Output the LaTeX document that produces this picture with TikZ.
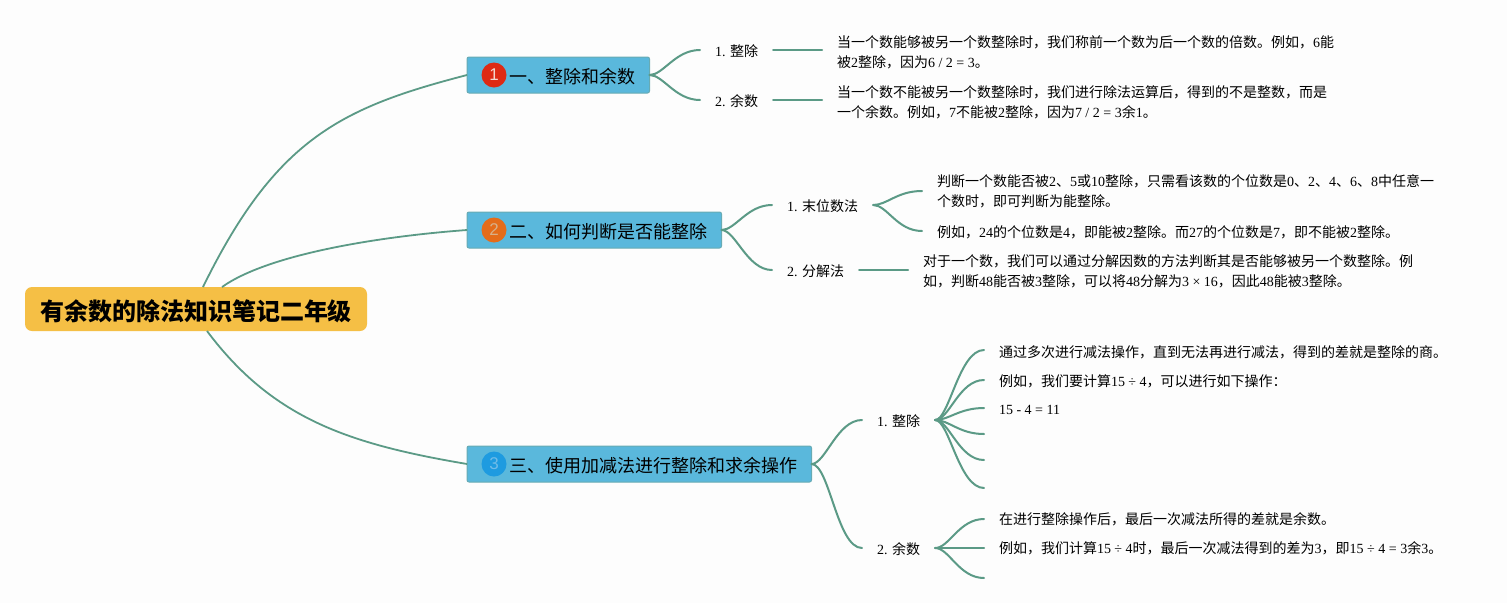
\documentclass[tikz,border=0pt]{standalone}
\usepackage{fontspec}
\setmainfont{Liberation Serif}
\newfontfamily\cjk{Noto Sans CJK SC}
\newfontfamily\badgefont{Liberation Sans}
\newcommand\la[1]{{\rmfamily #1}}
\definecolor{linkc}{HTML}{5B9A86}
\definecolor{topicc}{HTML}{5AB8DC}
\definecolor{topicb}{HTML}{67ABB4}
\definecolor{rootc}{HTML}{F5BF45}
\definecolor{bgc}{HTML}{FDFDFD}
\definecolor{bred}{HTML}{DE2A14}
\definecolor{bora}{HTML}{E46C1A}
\definecolor{bblu}{HTML}{1E9BE0}
\definecolor{dred}{HTML}{F3D6CE}
\definecolor{dora}{HTML}{D8B088}
\definecolor{dblu}{HTML}{70BCE8}
\tikzset{
  link/.style={draw=linkc,line width=2pt,line cap=round},
  rootlink/.style={draw=linkc,line width=1.8pt},
  rootbox/.style={fill=rootc,rounded corners=7pt,inner xsep=15pt,inner ysep=0pt,minimum height=44pt,outer sep=0pt,anchor=west,text height=25pt,text depth=3pt,font=\cjk\bfseries\fontsize{24}{28}\selectfont},
  topicbox/.style={fill=topicc,draw=topicb,line width=1pt,rounded corners=2pt,inner xsep=14.5pt,inner ysep=0pt,minimum height=36pt,outer sep=0pt,anchor=west,text height=19pt,text depth=2.4pt,font=\cjk\fontsize{18}{22}\selectfont},
  badge/.style={circle,minimum size=25pt,inner sep=0pt,font=\badgefont\fontsize{17}{20}\selectfont},
  branch/.style={inner xsep=15pt,inner ysep=0pt,outer sep=0pt,anchor=west,text height=15pt,text depth=1.4pt,font=\cjk\fontsize{14}{20}\selectfont},
  detail/.style={inner xsep=15pt,inner ysep=0pt,outer sep=0pt,anchor=west,align=left,font=\cjk\fontsize{14}{20}\selectfont},
  fan/.style={link},
}
\begin{document}
\begin{tikzpicture}[x=1pt,y=-1pt]
\useasboundingbox (0,0) rectangle (1507,603);
\fill[bgc] (0,0) rectangle (1507,603);

\node[rootbox] (root) at (25,309) {有余数的除法知识笔记二年级};
\node[topicbox] (t1) at (467,75) {\hspace*{27.5pt}一、整除和余数};
\node[topicbox] (t2) at (467,230) {\hspace*{27.5pt}二、如何判断是否能整除};
\node[topicbox] (t3) at (467,464) {\hspace*{27.5pt}三、使用加减法进行整除和求余操作};
\node[badge,fill=bred,text=dred] (b1) at (494,75) {1};
\node[badge,fill=bora,text=dora] (b2) at (494,230) {2};
\node[badge,fill=bblu,text=dblu] (b3) at (494,464) {3};

\coordinate (r1) at (203,287);
\coordinate (r2) at (222,287);
\coordinate (r3) at (207,331);
\draw[rootlink] (r1) .. controls (276,138) and (342,107.5) .. (t1.west);
\draw[rootlink] (r2) .. controls (270,253) and (385,236) .. (t2.west);
\draw[rootlink] (r3) .. controls (273,419) and (349,444) .. (t3.west);

\node[branch] (a1) at (700,50) {\la{1. }整除};
\node[branch] (a2) at (700,100) {\la{2. }余数};
\node[detail] (d1) at (822,52) {当一个数能够被另一个数整除时，我们称前一个数为后一个数的倍数。例如，\la{6}能\\被\la{2}整除，因为\la{6 / 2 = 3}。};
\node[detail] (d2) at (822,102) {当一个数不能被另一个数整除时，我们进行除法运算后，得到的不是整数，而是\\一个余数。例如，\la{7}不能被\la{2}整除，因为\la{7 / 2 = 3}余\la{1}。};
\draw[link] (t1.east) .. controls +(14,0) and +(-25,0) .. (a1.west);
\draw[link] (t1.east) .. controls +(14,0) and +(-25,0) .. (a2.west);
\draw[link] (a1.east) -- (a1.east -| d1.west);
\draw[link] (a2.east) -- (a2.east -| d2.west);

\node[branch] (b21) at (772,205) {\la{1. }末位数法};
\node[branch] (b22) at (772,270) {\la{2. }分解法};
\node[detail] (d3) at (922,191) {判断一个数能否被\la{2}、\la{5}或\la{10}整除，只需看该数的个位数是\la{0}、\la{2}、\la{4}、\la{6}、\la{8}中任意一\\个数时，即可判断为能整除。};
\node[detail] (d4) at (922,232) {例如，\la{24}的个位数是\la{4}，即能被\la{2}整除。而\la{27}的个位数是\la{7}，即不能被\la{2}整除。};
\node[detail] (d5) at (908,271) {对于一个数，我们可以通过分解因数的方法判断其是否能够被另一个数整除。例\\如，判断\la{48}能否被\la{3}整除，可以将\la{48}分解为\la{3 × 16}，因此\la{48}能被\la{3}整除。};
\draw[link] (t2.east) .. controls +(14,0) and +(-25,0) .. (b21.west);
\draw[link] (t2.east) .. controls +(14,0) and +(-25,0) .. (b22.west);
\draw[link] (b21.east) .. controls +(14,0) and +(-25,0) .. (d3.west);
\draw[link] (b21.east) .. controls +(14,0) and +(-25,0) .. ([yshift=1pt]d4.west);
\draw[link] (b22.east) -- (b22.east -| d5.west);

\node[branch] (c1) at (862,420) {\la{1. }整除};
\node[branch] (c2) at (862,548) {\la{2. }余数};
\node[detail] (e1) at (984,352) {通过多次进行减法操作，直到无法再进行减法，得到的差就是整除的商。};
\node[detail] (e2) at (984,381.5) {例如，我们要计算\la{15 ÷ 4}，可以进行如下操作：};
\node[detail] (e3) at (984,409.5) {\la{15 - 4 = 11}};
\coordinate (e4) at (984,434);
\coordinate (e5) at (984,460);
\coordinate (e6) at (984,488);
\node[detail] (f1) at (984,519) {在进行整除操作后，最后一次减法所得的差就是余数。};
\node[detail] (f2) at (984,548) {例如，我们计算\la{15 ÷ 4}时，最后一次减法得到的差为\la{3}，即\la{15 ÷ 4 = 3}余\la{3}。};
\coordinate (f3) at (984,578);
\draw[link] (t3.east) .. controls +(14,0) and +(-25,0) .. (c1.west);
\draw[link] (t3.east) .. controls +(18,0) and +(-25,0) .. (c2.west);
\draw[link] (c1.east) .. controls +(14,0) and +(-25,0) .. ([yshift=2pt]e1.west);
\draw[link] (c1.east) .. controls +(14,0) and +(-25,0) .. ([yshift=1.5pt]e2.west);
\draw[link] (c1.east) .. controls +(14,0) and +(-25,0) .. ([yshift=1.5pt]e3.west);
\foreach \k in {e4,e5,e6}
  \draw[link] (c1.east) .. controls +(14,0) and +(-25,0) .. (\k);
\foreach \k in {f1.west,f2.west,f3}
  \draw[link] (c2.east) .. controls +(14,0) and +(-25,0) .. (\k);
\end{tikzpicture}
\end{document}
